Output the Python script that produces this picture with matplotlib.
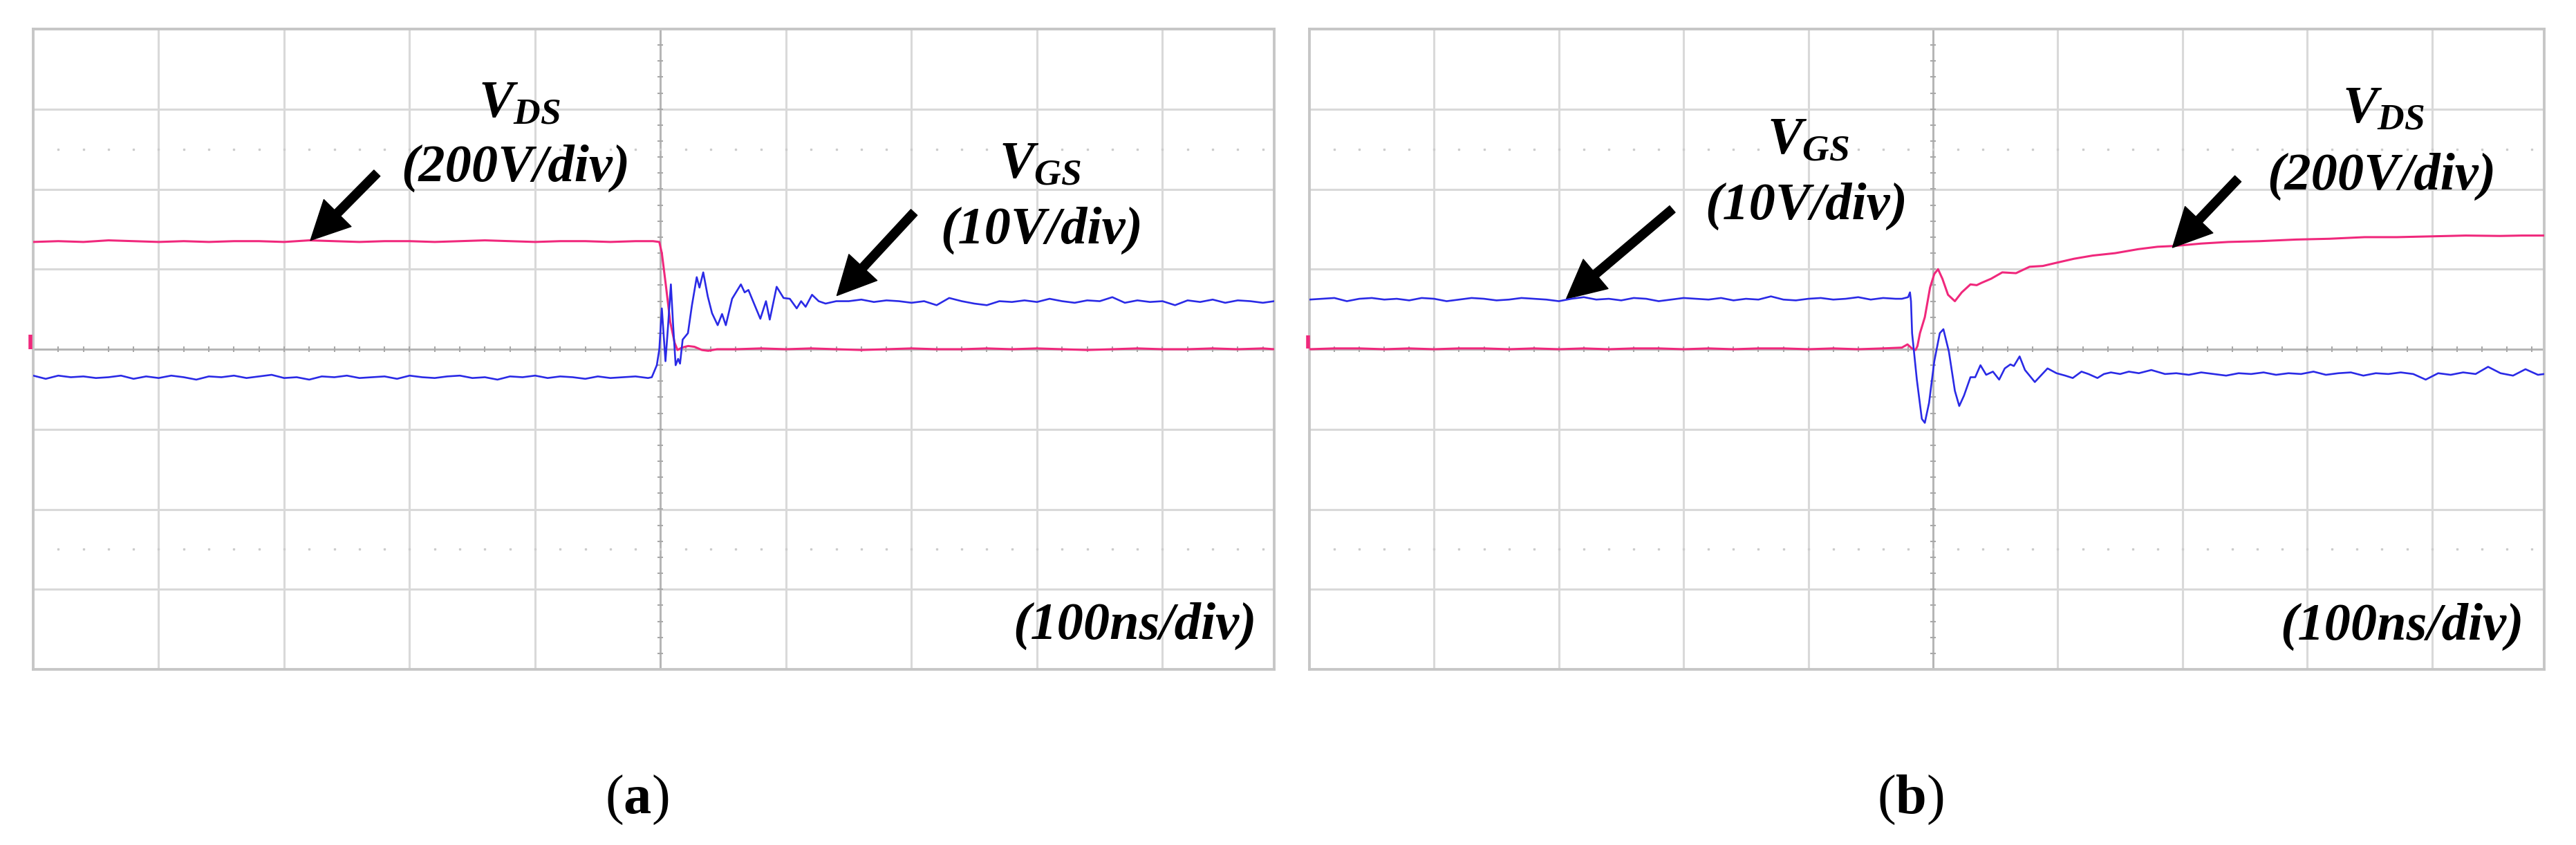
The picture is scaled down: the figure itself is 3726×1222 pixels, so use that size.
import numpy as np
import matplotlib
matplotlib.use('Agg')
import matplotlib.pyplot as plt

plt.rcParams['font.family'] = 'Liberation Serif'
plt.rcParams['mathtext.fontset'] = 'custom'
plt.rcParams['mathtext.rm'] = 'Liberation Serif'
plt.rcParams['mathtext.it'] = 'Liberation Serif:italic:bold'
plt.rcParams['mathtext.bf'] = 'Liberation Serif:bold'

W, H = 3726, 1222
MAGENTA = '#f0287c'
BLUE = '#2a2ae6'

# time in ns, values in screen divisions (0 = centre line)
# ---- (a) turn-on
a_vgs_t = [-500, -490, -480, -470, -460, -450, -440, -430, -420, -410,
           -400, -390, -380, -370, -360, -350, -340, -330, -320, -310,
           -300, -290, -280, -270, -260, -250, -240, -230, -220, -210,
           -200, -190, -180, -170, -160, -150, -140, -130, -120, -110,
           -100, -90, -80, -70, -60, -50, -40, -30, -20, -10,
           -7, -3, -1, 1, 3.9, 6, 8.2, 10, 12, 14,
           15.5, 17.6, 21.8, 25, 28.8, 31, 34, 37.6, 41, 45.5,
           49, 52, 57, 64, 67, 70, 75, 79.5, 84, 87,
           92.5, 98, 103, 108.5, 112, 115.6, 120.7, 126, 131.5, 140,
           150, 160, 170, 180, 190, 200, 210, 220, 230, 240,
           250, 260, 270, 280, 290, 300, 310, 320, 330, 340,
           350, 360, 370, 380, 390, 400, 410, 420, 430, 440,
           450, 460, 470, 480, 489]
a_vgs_v = [-0.33, -0.37, -0.33, -0.35, -0.34, -0.36, -0.35, -0.33, -0.37, -0.34,
           -0.36, -0.33, -0.35, -0.38, -0.34, -0.35, -0.33, -0.36, -0.34, -0.32,
           -0.36, -0.35, -0.38, -0.34, -0.35, -0.33, -0.36, -0.35, -0.34, -0.37,
           -0.33, -0.35, -0.36, -0.34, -0.33, -0.36, -0.35, -0.38, -0.34, -0.35,
           -0.33, -0.36, -0.34, -0.35, -0.37, -0.34, -0.36, -0.35, -0.34, -0.36,
           -0.35, -0.2, 0.0, 0.51, -0.15, 0.3, 0.81, 0.3, -0.2, -0.12,
           -0.18, 0.12, 0.2, 0.55, 0.9, 0.77, 0.96, 0.66, 0.45, 0.30,
           0.44, 0.30, 0.63, 0.81, 0.71, 0.74, 0.55, 0.38, 0.60, 0.37,
           0.78, 0.64, 0.63, 0.51, 0.60, 0.53, 0.68, 0.60, 0.57, 0.60,
           0.60, 0.62, 0.59, 0.61, 0.60, 0.58, 0.60, 0.55, 0.64, 0.60,
           0.57, 0.55, 0.60, 0.59, 0.61, 0.59, 0.63, 0.60, 0.58, 0.61,
           0.60, 0.65, 0.58, 0.61, 0.59, 0.60, 0.55, 0.61, 0.59, 0.62,
           0.58, 0.61, 0.60, 0.58, 0.60]

a_vds_t = [-500, -480, -460, -440, -420, -400, -380, -360, -340, -320,
           -300, -280, -260, -240, -220, -200, -180, -160, -140, -120,
           -100, -80, -60, -40, -20,
           -6, -1, 1, 4.2, 7.7, 11.2, 13.5, 17, 22, 27, 33, 38, 45,
           60, 80, 100, 120, 140, 160, 180, 200, 220, 240,
           260, 280, 300, 320, 340, 360, 380, 400, 420, 440,
           460, 480, 489]
a_vds_v = [1.34, 1.35, 1.34, 1.36, 1.35, 1.34, 1.35, 1.34, 1.35, 1.35,
           1.34, 1.36, 1.35, 1.34, 1.35, 1.35, 1.34, 1.35, 1.36, 1.35,
           1.34, 1.35, 1.35, 1.34, 1.35,
           1.35, 1.34, 1.2, 0.8, 0.34, 0.08, -0.01, 0.02, 0.04, 0.03, -0.01, -0.02, 0.0,
           0.0, 0.01, 0.0, 0.01, 0.0, -0.01, 0.0, 0.01, 0.0, 0.0,
           0.01, 0.0, 0.01, 0.0, -0.01, 0.0, 0.01, 0.0, 0.0, 0.01,
           0.0, 0.01, 0.0]

# ---- (b) turn-off
b_vgs_t = [-500, -490, -480, -470, -460, -450, -440, -430, -420, -410,
           -400, -390, -380, -370, -360, -350, -340, -330, -320, -310,
           -300, -290, -280, -270, -260, -250, -240, -230, -220, -210,
           -200, -190, -180, -170, -160, -150, -140, -130, -120, -110,
           -100, -90, -80, -70, -60, -50, -40, -30,
           -25, -20, -18.5, -17.7, -16.8, -13, -9, -6.6, -3.2, 1,
           5.4, 8.3, 12.7, 17.5, 21, 24.8, 30, 33.8, 38, 42.6,
           48, 53, 57.5, 62, 64.8, 69.4, 73.7, 81.6, 86.4, 91.8,
           99, 106, 112, 119, 124.6, 131.8, 137, 142.6, 150, 157,
           165, 175, 186,
           195, 205, 215, 225, 235, 245, 255, 265, 275, 285,
           295, 305, 315, 325, 335, 345, 355, 365, 375, 385,
           395, 405, 415, 425, 435, 445, 455, 465, 475, 485, 490]
b_vgs_v = [0.62, 0.63, 0.64, 0.60, 0.63, 0.64, 0.62, 0.63, 0.61, 0.64,
           0.63, 0.60, 0.62, 0.64, 0.63, 0.61, 0.62, 0.64, 0.63, 0.62,
           0.60, 0.63, 0.65, 0.62, 0.63, 0.61, 0.64, 0.63, 0.60, 0.62,
           0.64, 0.63, 0.62, 0.64, 0.61, 0.63, 0.62, 0.66, 0.62, 0.61,
           0.63, 0.64, 0.62, 0.63, 0.65, 0.62, 0.64, 0.63,
           0.63, 0.65, 0.71, 0.6, 0.2, -0.38, -0.87, -0.92, -0.67, -0.15,
           0.2, 0.25, -0.03, -0.52, -0.71, -0.58, -0.35, -0.35, -0.2, -0.32,
           -0.28, -0.38, -0.24, -0.19, -0.21, -0.09, -0.26, -0.41, -0.33, -0.24,
           -0.30, -0.33, -0.36, -0.28, -0.31, -0.36, -0.31, -0.29, -0.31, -0.28,
           -0.30, -0.26, -0.31,
           -0.30, -0.32, -0.29, -0.31, -0.33, -0.30, -0.31, -0.29, -0.32, -0.30,
           -0.31, -0.28, -0.32, -0.30, -0.29, -0.33, -0.30, -0.31, -0.29, -0.31,
           -0.38, -0.30, -0.32, -0.29, -0.31, -0.22, -0.30, -0.33, -0.25, -0.32, -0.31]

b_vds_t = [-500, -480, -460, -440, -420, -400, -380, -360, -340, -320,
           -300, -280, -260, -240, -220, -200, -180, -160, -140, -120,
           -100, -80, -60, -40,
           -25, -20.5, -17, -14, -12.5, -10.5, -6.6, -2.4, 1, 4,
           7.5, 12, 17.5, 23, 30, 35, 39, 46.5, 55.5, 66.5,
           77.4, 88, 99, 113, 128, 146, 164.6, 180, 193.5, 215,
           236.7, 262, 291, 318, 346, 372, 400, 427, 454.5, 472, 490]
b_vds_v = [0.0, 0.01, 0.01, 0.0, 0.01, 0.0, 0.01, 0.01, 0.0, 0.01,
           0.0, 0.01, 0.0, 0.01, 0.01, 0.0, 0.01, 0.0, 0.01, 0.01,
           0.0, 0.01, 0.0, 0.01,
           0.02, 0.06, 0.01, -0.01, 0.04, 0.2, 0.40, 0.77, 0.94, 1.0,
           0.88, 0.68, 0.60, 0.71, 0.81, 0.80, 0.83, 0.88, 0.96, 0.95,
           1.03, 1.04, 1.08, 1.13, 1.17, 1.20, 1.25, 1.28, 1.29, 1.32,
           1.34, 1.35, 1.37, 1.38, 1.40, 1.40, 1.41, 1.42, 1.415, 1.42, 1.42]


def px(x, y):
    return (x / W, 1 - y / H)


def scope_screen(ax, xmax):
    ax.set_xlim(-500, xmax)
    ax.set_ylim(-4, 4)
    ax.set_xticks(range(-400, 500, 100))
    ax.set_yticks(range(-3, 4))
    ax.tick_params(length=0, labelbottom=False, labelleft=False)
    ax.grid(True, color='#d9d9d9', lw=2.2)
    ax.set_axisbelow(True)
    for s in ax.spines.values():
        s.set_color('#c6c6c6')
        s.set_linewidth(2.8)
    ax.axhline(0, color='#b4b4b4', lw=2.0, zorder=1)
    ax.axvline(0, color='#b4b4b4', lw=2.0, zorder=1)
    mt = np.arange(-480, xmax, 20)
    mv = np.arange(-3.8, 3.81, 0.2)
    ax.plot(mt, np.zeros(len(mt)), ls='none', marker='|', ms=6, mew=1.5, color='#a8a8a8', zorder=1)
    ax.plot(np.zeros(len(mv)), mv, ls='none', marker='_', ms=6, mew=1.5, color='#a8a8a8', zorder=1)
    for yy in (2.5, -2.5):
        ax.plot(mt, np.full(len(mt), yy), ls='none', marker='s', ms=1.6, color='#cccccc', zorder=1)


def arrow(ax, tip, tail):
    ax.annotate('', xy=tip, xytext=tail, annotation_clip=False,
                arrowprops=dict(width=9, headwidth=40, headlength=40, shrink=0.0,
                                facecolor='black', edgecolor='black'))


fig = plt.figure(figsize=(W / 100, H / 100), dpi=100)
ax_a = fig.add_axes([48 / W, 1 - 968 / H, (1843 - 48) / W, (968 - 42) / H])
ax_b = fig.add_axes([1894 / W, 1 - 968 / H, (3680 - 1894) / W, (968 - 42) / H])

scope_screen(ax_a, 489)
scope_screen(ax_b, 490)

ax_a.plot(a_vds_t, a_vds_v, color=MAGENTA, lw=2.2, zorder=3)
ax_a.plot(a_vgs_t, a_vgs_v, color=BLUE, lw=1.9, zorder=4)
ax_b.plot(b_vds_t, b_vds_v, color=MAGENTA, lw=2.2, zorder=3)
ax_b.plot(b_vgs_t, b_vgs_v, color=BLUE, lw=1.9, zorder=4)

# ground reference markers
ax_a.plot([-502, -502], [0.0, 0.18], color=MAGENTA, lw=4, solid_capstyle='butt', clip_on=False, zorder=5)
ax_b.plot([-501, -501], [0.01, 0.17], color=MAGENTA, lw=4, solid_capstyle='butt', clip_on=False, zorder=5)

arrow(ax_a, (-279, 1.36), (-226, 2.2))
arrow(ax_a, (140.5, 0.67), (202, 1.71))
arrow(ax_b, (-294, 0.63), (-209, 1.75))
arrow(ax_b, (192, 1.27), (244.5, 2.13))

lab = dict(fontsize=55, ha='center', va='center')
txt = dict(fontsize=55, ha='center', va='center', fontweight='bold', fontstyle='italic')

fig.text(*px(752, 150), r'$V_{DS}$', **lab)
fig.text(*px(746, 243), '(200V/div)', **txt)
fig.text(*px(1505, 238), r'$V_{GS}$', **lab)
fig.text(*px(1507, 333), '(10V/div)', **txt)
fig.text(*px(1641, 905), '(100ns/div)', **txt)

fig.text(*px(2616, 203), r'$V_{GS}$', **lab)
fig.text(*px(2613, 298), '(10V/div)', **txt)
fig.text(*px(3448, 158), r'$V_{DS}$', **lab)
fig.text(*px(3445, 255), '(200V/div)', **txt)
fig.text(*px(3474, 906), '(100ns/div)', **txt)

fig.text(*px(921, 1157), r'$(\mathbf{a})$', fontsize=58, ha='center', va='center')
fig.text(*px(2763, 1157), r'$(\mathbf{b})$', fontsize=58, ha='center', va='center')

fig.savefig('out.png', dpi=100)
